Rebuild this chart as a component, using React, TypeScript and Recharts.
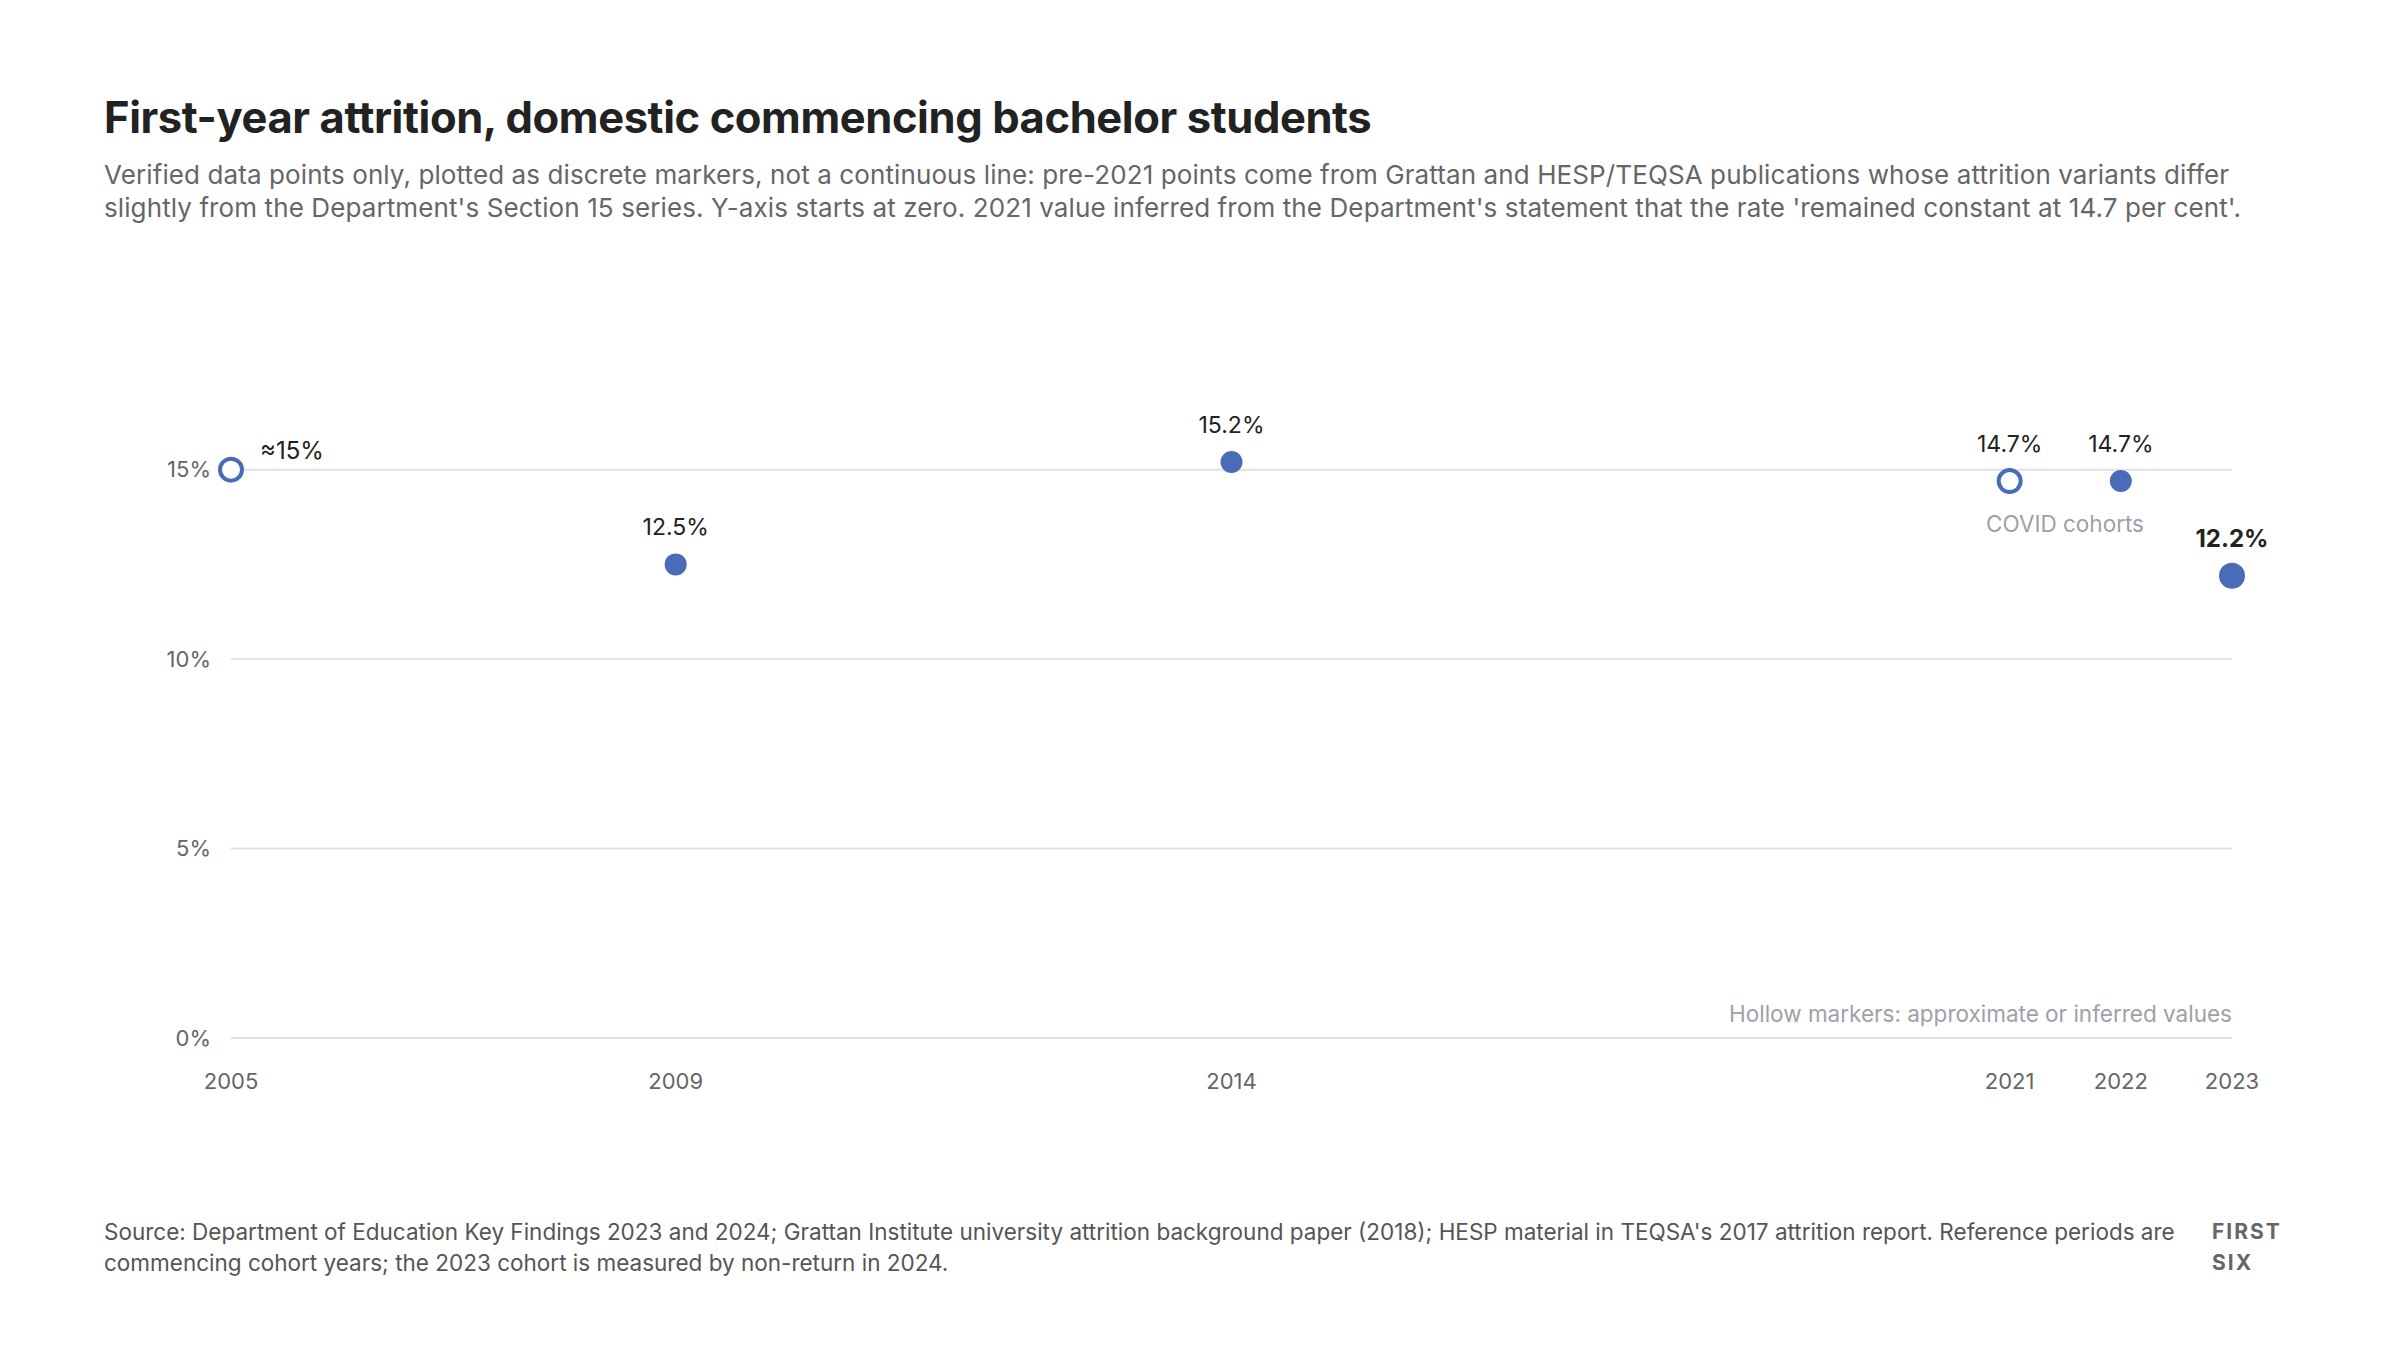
import React from "react";
import {
  ScatterChart,
  Scatter,
  XAxis,
  YAxis,
  ReferenceLine,
} from "recharts";

// Cohort years and first-year attrition (%)
const years = [2005, 2009, 2014, 2021, 2022, 2023];
const rates = [15, 12.5, 15.2, 14.7, 14.7, 12.2];
const hollow = [true, false, false, true, false, false];
const pointLabels = ["≈15%", "12.5%", "15.2%", "14.7%", "14.7%", "12.2%"];

const xTicks = [2005, 2009, 2014, 2021, 2022, 2023];
const yTicks = [0, 5, 10, 15];

const BLUE = "#4a6bb7";
const FONT = "Inter, 'Noto Sans', sans-serif";

const data = years.map((year, i) => ({
  year,
  rate: rates[i],
  hollow: hollow[i],
  label: pointLabels[i],
  latest: i === years.length - 1,
  first: i === 0,
}));

const PointShape = (props: any) => {
  const { cx, cy, payload } = props;
  if (cx == null || cy == null) return null;
  const r = payload.latest ? 13 : 11;
  return (
    <g>
      {payload.hollow ? (
        <circle cx={cx} cy={cy} r={11} fill="#fff" stroke={BLUE} strokeWidth={4} />
      ) : (
        <circle cx={cx} cy={cy} r={r} fill={BLUE} />
      )}
      {payload.first ? (
        <text x={cx + 29} y={cy - 11} fontSize={24} fill="#222" fontFamily={FONT}>
          {payload.label}
        </text>
      ) : (
        <text
          x={cx}
          y={cy - 29}
          textAnchor="middle"
          fontSize={payload.latest ? 24 : 23}
          fontWeight={payload.latest ? 700 : 400}
          fill="#222"
          fontFamily={FONT}
        >
          {payload.label}
        </text>
      )}
    </g>
  );
};

export default function App() {
  return (
    <div
      style={{
        position: "absolute",
        left: 0,
        top: 0,
        width: 2400,
        height: 1350,
        background: "#fff",
        fontFamily: FONT,
        overflow: "hidden",
      }}
    >
      <div
        style={{
          position: "absolute",
          left: 104,
          top: 91,
          fontSize: 43.5,
          fontWeight: 700,
          color: "#222",
          letterSpacing: -0.4,
          whiteSpace: "nowrap",
        }}
      >
        First-year attrition, domestic commencing bachelor students
      </div>
      <div
        style={{
          position: "absolute",
          left: 104,
          top: 158,
          fontSize: 26,
          lineHeight: "33px",
          color: "#666",
          whiteSpace: "nowrap",
          letterSpacing: 0.1,
        }}
      >
        <div>
          Verified data points only, plotted as discrete markers, not a continuous line: pre-2021 points come from Grattan and HESP/TEQSA publications whose attrition variants differ
        </div>
        <div>
          slightly from the Department's Section 15 series. Y-axis starts at zero. 2021 value inferred from the Department's statement that the rate 'remained constant at 14.7 per cent'.
        </div>
      </div>

      <div style={{ position: "absolute", left: 0, top: 0 }}>
        <ScatterChart
          width={2400}
          height={1350}
          margin={{ top: 356, right: 168, bottom: 252, left: 171 }}
        >
          {yTicks.map((t) => (
            <ReferenceLine key={t} y={t} stroke="#e2e2e6" strokeWidth={2} />
          ))}
          <XAxis
            type="number"
            dataKey="year"
            domain={[2005, 2023]}
            ticks={xTicks}
            axisLine={false}
            tickLine={false}
            tickSize={0}
            tickMargin={35}
            height={60}
            tick={{ fontSize: 22, fill: "#666", fontFamily: FONT }}
          />
          <YAxis
            type="number"
            dataKey="rate"
            domain={[0, 18]}
            ticks={yTicks}
            axisLine={false}
            tickLine={false}
            tickSize={0}
            tickMargin={20}
            width={60}
            tickFormatter={(v) => `${v}%`}
            tick={{ fontSize: 22, fill: "#666", fontFamily: FONT }}
          />
          <Scatter data={data} shape={PointShape} isAnimationActive={false} />
        </ScatterChart>
      </div>

      <div
        style={{
          position: "absolute",
          left: 1915,
          width: 300,
          top: 510,
          textAlign: "center",
          fontSize: 22.5,
          color: "#a0a0a8",
        }}
      >
        COVID cohorts
      </div>
      <div
        style={{
          position: "absolute",
          right: 168,
          top: 1000,
          fontSize: 22.5,
          color: "#a0a0a8",
          whiteSpace: "nowrap",
        }}
      >
        Hollow markers: approximate or inferred values
      </div>

      <div
        style={{
          position: "absolute",
          left: 104,
          top: 1216,
          fontSize: 22.5,
          lineHeight: "31px",
          color: "#555",
          whiteSpace: "nowrap",
        }}
      >
        <div>
          Source: Department of Education Key Findings 2023 and 2024; Grattan Institute university attrition background paper (2018); HESP material in TEQSA's 2017 attrition report. Reference periods are
        </div>
        <div>commencing cohort years; the 2023 cohort is measured by non-return in 2024.</div>
      </div>
      <div
        style={{
          position: "absolute",
          left: 2212,
          top: 1216,
          fontSize: 21,
          lineHeight: "31px",
          fontWeight: 700,
          color: "#666",
          letterSpacing: 2,
        }}
      >
        <div>FIRST</div>
        <div>SIX</div>
      </div>
    </div>
  );
}
